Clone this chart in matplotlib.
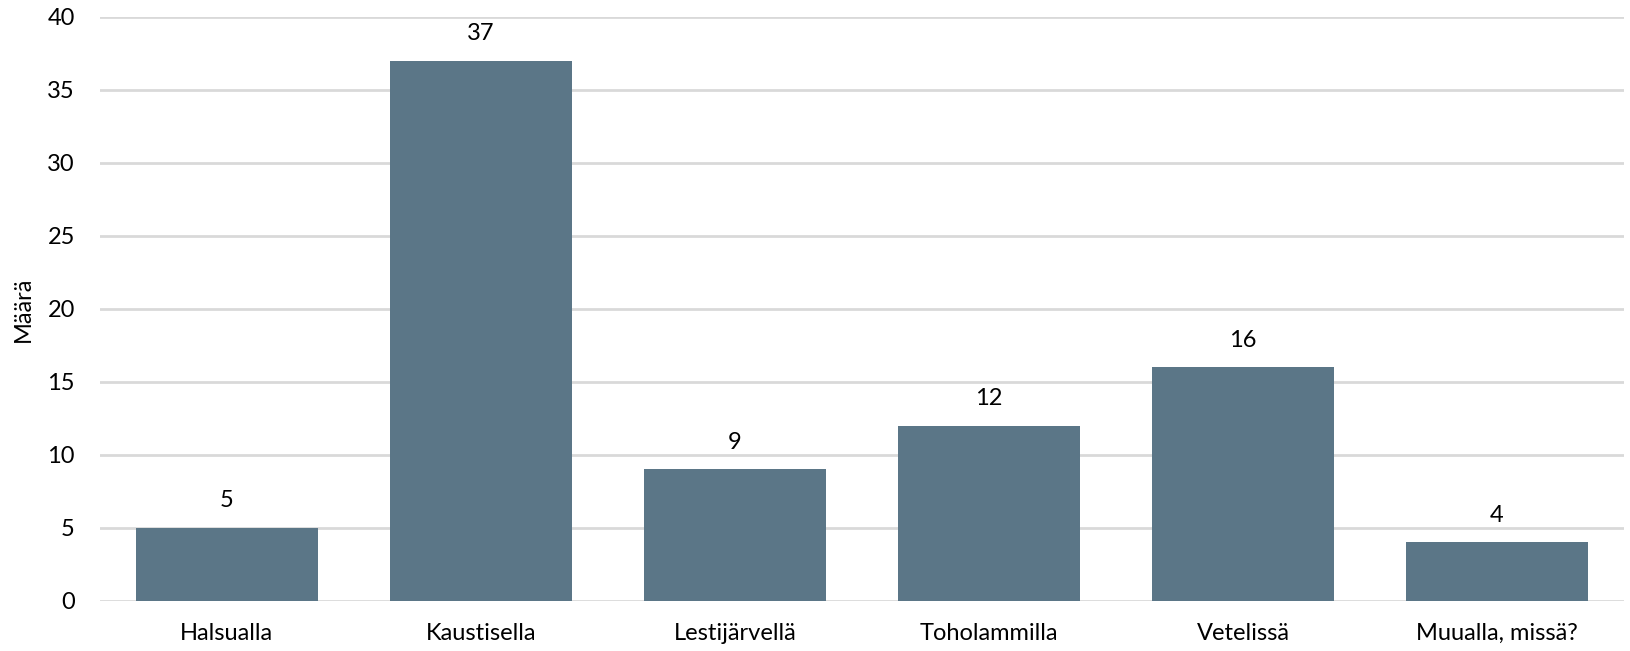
import matplotlib.pyplot as plt
import numpy as np

categories = ['Halsualla', 'Kaustisella', 'Lestijärvellä', 'Toholammilla', 'Vetelissä', 'Muualla, missä?']
counts = [5, 37, 9, 12, 16, 4]

plt.rcParams['font.family'] = ['Lato', 'DejaVu Sans']

fig, ax = plt.subplots(figsize=(16.3, 6.51), dpi=100)
fig.subplots_adjust(left=0.0613, right=0.9963, top=0.974, bottom=0.077)

x = np.arange(len(categories))
bars = ax.bar(x, counts, width=0.717, color='#5B7687', zorder=3)
ax.bar_label(bars, padding=12, fontsize=17, color='#000000')

ax.set_xlim(-0.5, len(categories) - 0.5)
ax.set_ylim(0, 40)
ax.set_yticks(range(0, 41, 5))
ax.set_xticks(x)
ax.set_xticklabels(categories)
ax.yaxis.set_tick_params(length=0, pad=18, labelsize=17, labelcolor='#000000')
ax.xaxis.set_tick_params(length=0, pad=16, labelsize=17, labelcolor='#000000')
ax.grid(axis='y', color='#D9D9D9', linewidth=2, zorder=0)
for s in ax.spines.values():
    s.set_visible(False)
ax.set_ylabel('Määrä', fontsize=17)
ax.yaxis.set_label_coords(-0.0433, 0.5)

fig.savefig('out.png')
